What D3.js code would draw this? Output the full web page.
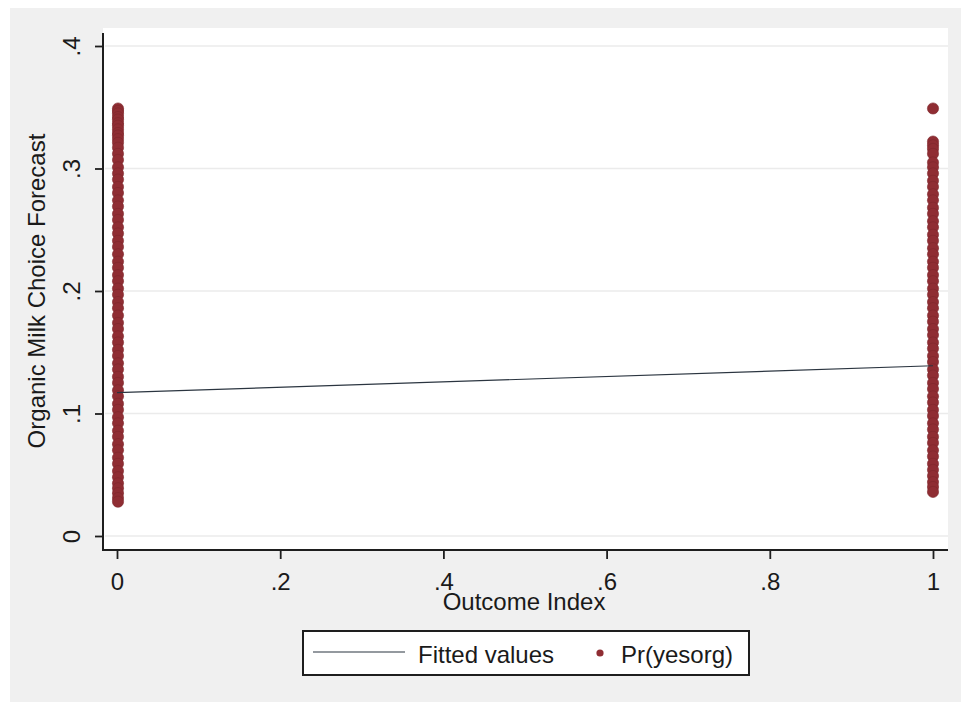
<!DOCTYPE html>
<html>
<head>
<meta charset="utf-8">
<script src="https://cdn.jsdelivr.net/npm/d3@7"></script>
<style>
  html, body { margin: 0; padding: 0; background: #ffffff; }
  svg { display: block; }
  text { font-family: "Liberation Sans", Arial, sans-serif; fill: #1a1a1a; }
</style>
</head>
<body>
<svg id="chart" width="961" height="702"></svg>
<script>
// ---------------- data ----------------
const xTicks = [0, 0.2, 0.4, 0.6, 0.8, 1];
const xTickLabels = ["0", ".2", ".4", ".6", ".8", "1"];
const yTicks = [0, 0.1, 0.2, 0.3, 0.4];
const yTickLabels = ["0", ".1", ".2", ".3", ".4"];

// Pr(yesorg) at Outcome Index = 0
const prAtZero = [0.349, 0.347, 0.345, 0.342, 0.340, 0.337, 0.335, 0.332, 0.329, 0.327,
  0.324, 0.321, 0.317, 0.312, 0.307, 0.301, 0.296, 0.291, 0.285, 0.280, 0.274, 0.269,
  0.263, 0.258, 0.252, 0.247, 0.241, 0.236, 0.230, 0.224, 0.219, 0.213, 0.208, 0.202,
  0.197, 0.191, 0.186, 0.180, 0.174, 0.169, 0.163, 0.158, 0.152, 0.147, 0.141, 0.136,
  0.130, 0.125, 0.119, 0.114, 0.108, 0.103, 0.097, 0.092, 0.086, 0.081, 0.075, 0.070,
  0.064, 0.059, 0.053, 0.048, 0.043, 0.039, 0.035, 0.031, 0.028];
// Pr(yesorg) at Outcome Index = 1
const prAtOne = [0.349, 0.322, 0.319, 0.316, 0.312, 0.305, 0.301, 0.296, 0.290, 0.285,
  0.279, 0.274, 0.268, 0.263, 0.257, 0.252, 0.246, 0.241, 0.235, 0.230, 0.224, 0.219,
  0.213, 0.208, 0.202, 0.197, 0.191, 0.186, 0.180, 0.175, 0.169, 0.164, 0.158, 0.153,
  0.147, 0.142, 0.136, 0.131, 0.125, 0.120, 0.114, 0.109, 0.103, 0.098, 0.092, 0.087,
  0.081, 0.076, 0.070, 0.065, 0.059, 0.054, 0.049, 0.044, 0.040, 0.036];

// Fitted values (linear fit)
const fitX = [0, 1];
const fitY = [0.117, 0.139];

const xTitle = "Outcome Index";
const yTitle = "Organic Milk Choice Forecast";
const legendLabels = ["Fitted values", "Pr(yesorg)"];

// ---------------- drawing ----------------
const svg = d3.select("#chart");
const font = 24;
const maroon = "#8f2d33";
const lineColor = "#2b3540";
const axisColor = "#1e1e1e";

// graph region
svg.append("rect").attr("x", 0).attr("y", 0).attr("width", 961).attr("height", 702).attr("fill", "#ffffff");
svg.append("rect").attr("x", 10).attr("y", 8).attr("width", 951).attr("height", 694).attr("fill", "#f0f0f0");

const plot = {left: 103, right: 948, top: 28, bottom: 550};
svg.append("rect").attr("x", plot.left).attr("y", plot.top)
  .attr("width", plot.right - plot.left).attr("height", plot.bottom - plot.top)
  .attr("fill", "#ffffff");

const x = d3.scaleLinear().domain([0, 1]).range([117, 933]);
const y = d3.scaleLinear().domain([0, 0.4]).range([536, 46]);

// gridlines
svg.append("g").selectAll("line").data(yTicks).join("line")
  .attr("x1", plot.left + 2).attr("x2", plot.right)
  .attr("y1", d => y(d)).attr("y2", d => y(d))
  .attr("stroke", "#ebebeb").attr("stroke-width", 1.5);

// y axis
const yAxis = d3.axisLeft(y).tickValues(yTicks).tickSize(8).tickFormat((d, i) => yTickLabels[i]);
const gy = svg.append("g").attr("transform", `translate(${plot.left},0)`).call(yAxis);
gy.select(".domain").remove();
gy.selectAll(".tick line").attr("stroke", axisColor).attr("stroke-width", 1.8);
gy.selectAll(".tick text")
  .attr("x", null).attr("dy", null)
  .attr("transform", "translate(-23,0) rotate(-90)")
  .attr("text-anchor", "middle")
  .attr("font-size", font)
  .style("font-family", "'Liberation Sans', Arial, sans-serif")
  .attr("fill", "#1a1a1a");
svg.append("line").attr("x1", plot.left).attr("x2", plot.left)
  .attr("y1", 33).attr("y2", plot.bottom + 1)
  .attr("stroke", axisColor).attr("stroke-width", 2);

// x axis
const xAxis = d3.axisBottom(x).tickValues(xTicks).tickSize(9).tickFormat((d, i) => xTickLabels[i]);
const gx = svg.append("g").attr("transform", `translate(0,${plot.bottom})`).call(xAxis);
gx.select(".domain").remove();
gx.selectAll(".tick line").attr("stroke", axisColor).attr("stroke-width", 1.8);
gx.selectAll(".tick text")
  .attr("y", 40).attr("dy", null)
  .attr("font-size", font)
  .style("font-family", "'Liberation Sans', Arial, sans-serif")
  .attr("fill", "#1a1a1a");
svg.append("line").attr("x1", plot.left - 1).attr("x2", plot.right)
  .attr("y1", plot.bottom).attr("y2", plot.bottom)
  .attr("stroke", axisColor).attr("stroke-width", 2);

// scatter
const pts = prAtZero.map(v => ({x: 0, y: v})).concat(prAtOne.map(v => ({x: 1, y: v})));
svg.append("g").selectAll("circle").data(pts).join("circle")
  .attr("cx", d => x(d.x) + (d.x === 0 ? 1 : 0)).attr("cy", d => y(d.y)).attr("r", 5.6)
  .attr("fill", maroon).attr("stroke", "#7e262b").attr("stroke-width", 0.6);

// fitted line
const line = d3.line().x((d, i) => x(fitX[i])).y(d => y(d));
svg.append("path").datum(fitY).attr("d", line)
  .attr("fill", "none").attr("stroke", lineColor).attr("stroke-width", 1.2);

// axis titles
svg.append("text").attr("x", 524).attr("y", 610).attr("text-anchor", "middle")
  .attr("font-size", font).text(xTitle);
svg.append("text").attr("transform", "translate(45,291) rotate(-90)")
  .attr("text-anchor", "middle").attr("font-size", font).text(yTitle);

// legend
const lg = svg.append("g");
lg.append("rect").attr("x", 303).attr("y", 631).attr("width", 446).attr("height", 44)
  .attr("fill", "#ffffff").attr("stroke", "#1e1e1e").attr("stroke-width", 2);
lg.append("line").attr("x1", 313).attr("x2", 405).attr("y1", 652).attr("y2", 652)
  .attr("stroke", lineColor).attr("stroke-width", 1.2);
lg.append("text").attr("x", 418).attr("y", 663).attr("font-size", font).text(legendLabels[0]);
lg.append("circle").attr("cx", 600).attr("cy", 653).attr("r", 3.6).attr("fill", maroon);
lg.append("text").attr("x", 621).attr("y", 663).attr("font-size", font).text(legendLabels[1]);
</script>
</body>
</html>
